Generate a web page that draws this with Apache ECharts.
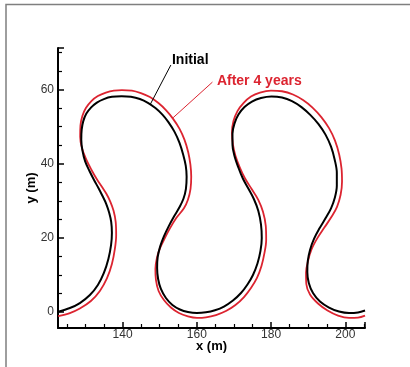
<!DOCTYPE html>
<html>
<head>
<meta charset="utf-8">
<script src="https://cdn.jsdelivr.net/npm/echarts@6/dist/echarts.min.js"></script>
<style>
html, body { margin: 0; padding: 0; background: #fff; }
#chart { width: 410px; height: 367px; }
</style>
</head>
<body>
<div id="chart"></div>
<script>
// channel centerline: [x (m), y (m)]
var initialLine = [
    [122.64, 0.08], [125.80, 1.08], [128.49, 2.43], [131.19, 4.59], [133.34, 7.30],
    [134.96, 10.54], [136.17, 14.32], [136.90, 18.11], [137.12, 21.35], [136.93, 24.32],
    [136.39, 26.76], [135.58, 29.19], [134.56, 31.35], [133.53, 33.38], [132.45, 35.35],
    [131.11, 37.97], [129.92, 40.62], [129.19, 43.51], [128.87, 46.49], [128.98, 49.19],
    [129.41, 51.49], [130.24, 53.51], [131.54, 55.19], [133.07, 56.49], [134.96, 57.43],
    [137.12, 58.03], [139.73, 58.19], [142.24, 58.03], [144.66, 57.43], [146.82, 56.41],
    [148.84, 55.00], [150.73, 53.24], [152.34, 51.22], [153.96, 48.65], [155.31, 45.68],
    [156.33, 42.43], [157.01, 39.46], [157.25, 36.49], [157.06, 33.24], [156.39, 30.54],
    [155.31, 28.24], [153.96, 25.95], [152.48, 23.24], [151.13, 20.41], [150.13, 17.70],
    [149.46, 14.86], [149.30, 11.89], [149.57, 8.92], [150.32, 6.22], [151.67, 3.78],
    [153.42, 1.89], [155.44, 0.68], [157.60, 0.00], [160.03, -0.27], [162.45, -0.08],
    [164.88, 0.49], [167.30, 1.49], [169.73, 3.11], [171.89, 5.14], [173.64, 7.43],
    [175.12, 10.00], [176.33, 13.11], [177.14, 16.49], [177.49, 20.00], [177.28, 23.65],
    [176.55, 27.30], [175.39, 30.41], [173.91, 33.24], [172.43, 35.95], [171.16, 39.05],
    [170.13, 42.16], [169.60, 45.14], [169.60, 48.11], [170.13, 50.81], [171.21, 53.24],
    [172.83, 55.27], [174.85, 56.76], [177.28, 57.70], [180.11, 58.11], [182.94, 57.84],
    [185.63, 56.89], [188.19, 55.27], [190.62, 53.11], [192.78, 50.68], [194.66, 47.84],
    [196.15, 44.59], [197.14, 41.08], [197.71, 37.57], [197.71, 34.05], [197.17, 30.81],
    [196.15, 27.97], [194.66, 25.27], [193.05, 22.57], [191.56, 19.73], [190.49, 16.76],
    [189.89, 13.78], [189.76, 10.81], [190.16, 7.84], [191.29, 5.14], [193.18, 2.84],
    [195.61, 1.22], [198.30, 0.14], [201.00, -0.27], [203.42, -0.11], [205.31, 0.41]
];
var after4Years = [
    [122.64, -1.08], [125.80, -0.27], [128.49, 0.95], [131.46, 2.97], [133.88, 5.68],
    [135.77, 9.05], [137.12, 12.97], [137.92, 17.03], [138.27, 20.81], [138.14, 24.32],
    [137.57, 27.30], [136.71, 29.73], [135.63, 31.89], [134.42, 33.78], [133.07, 35.81],
    [131.59, 38.38], [130.11, 41.35], [129.03, 44.32], [128.57, 47.30], [128.65, 50.27],
    [129.16, 52.84], [130.11, 55.00], [131.59, 56.89], [133.34, 58.24], [135.50, 59.19],
    [137.65, 59.73], [139.81, 59.86], [142.51, 59.73], [144.93, 59.05], [147.36, 57.97],
    [149.65, 56.35], [151.67, 54.46], [153.56, 52.16], [155.31, 49.46], [156.66, 46.49],
    [157.68, 43.11], [158.27, 39.73], [158.49, 36.49], [158.30, 33.24], [157.60, 30.27],
    [156.52, 27.97], [154.50, 25.41], [152.75, 22.57], [151.27, 19.73], [150.00, 17.03],
    [149.19, 14.32], [148.84, 11.62], [148.98, 8.65], [149.70, 5.68], [151.13, 3.24],
    [153.02, 1.22], [155.18, -0.27], [157.60, -1.16], [160.03, -1.57], [162.45, -1.43],
    [165.15, -0.81], [167.84, 0.27], [170.40, 1.89], [172.70, 4.05], [174.58, 6.49],
    [176.20, 9.19], [177.41, 12.43], [178.22, 15.95], [178.68, 19.46], [178.57, 23.24],
    [177.82, 27.03], [176.55, 30.27], [174.72, 33.24], [172.96, 36.08], [171.56, 39.05],
    [170.40, 42.16], [169.73, 45.14], [169.46, 48.38], [169.87, 51.49], [170.94, 54.19],
    [172.56, 56.35], [174.58, 58.11], [177.01, 59.19], [179.97, 59.73], [182.94, 59.54],
    [185.90, 58.65], [188.60, 57.16], [191.16, 55.14], [193.53, 52.57], [195.61, 49.59],
    [197.22, 46.22], [198.36, 42.43], [198.98, 38.65], [199.11, 35.14], [198.73, 31.62],
    [197.76, 28.38], [196.28, 25.68], [194.40, 22.84], [192.51, 20.00], [190.89, 16.89],
    [189.95, 13.78], [189.41, 10.68], [189.49, 7.57], [190.49, 4.73], [192.64, 2.30],
    [195.20, 0.41], [198.03, -0.95], [201.00, -1.57], [203.42, -1.49], [205.31, -0.95]
];

var xRange = [122.6, 205.3];
var yRange = [-4.3, 71.2];

// labels and leader lines, in data units
var labelInitial = { text: 'Initial', at: [153.3, 67.9], from: [153.0, 66.6], to: [147.4, 55.9] };
var labelAfter = { text: 'After 4 years', at: [165.4, 62.3], from: [164.2, 62.0], to: [153.6, 52.4] };

var RED = '#dc2430';
var FONT = 'Liberation Sans, Arial, sans-serif';

var axisCommon = {
    type: 'value',
    splitNumber: 4,
    axisLine: { onZero: false, lineStyle: { color: '#000', width: 2 } },
    axisTick: { inside: true, length: 6, lineStyle: { color: '#000', width: 1.5 } },
    minorTick: { show: true, splitNumber: 4, length: 4, lineStyle: { color: '#000', width: 1.2 } },
    splitLine: { show: false },
    nameLocation: 'middle',
    nameMoveOverlap: false,
    nameTextStyle: { fontFamily: FONT, fontWeight: 'bold', fontSize: 13, color: '#000' }
};

var myChart = echarts.init(document.getElementById('chart'));

var option = {
    animation: false,
    backgroundColor: '#fff',
    grid: { left: 58, top: 48, right: 45, bottom: 39 },
    xAxis: Object.assign({}, axisCommon, {
        min: xRange[0],
        max: xRange[1],
        name: 'x (m)',
        nameGap: 12,
        axisLabel: { showMinLabel: false, showMaxLabel: false, margin: 1,
            fontFamily: FONT, fontSize: 12, color: '#333' }
    }),
    yAxis: Object.assign({}, axisCommon, {
        min: yRange[0],
        max: yRange[1],
        name: 'y (m)',
        nameGap: 20,
        axisLabel: { showMinLabel: false, showMaxLabel: false, margin: 4,
            fontFamily: FONT, fontSize: 12, color: '#333' }
    }),
    series: [
        {
            name: 'After 4 years',
            type: 'line',
            data: after4Years,
            showSymbol: false,
            smooth: 0.35,
            lineStyle: { color: RED, width: 1.8 },
            z: 2
        },
        {
            name: 'Initial',
            type: 'line',
            data: initialLine,
            showSymbol: false,
            smooth: 0.35,
            lineStyle: { color: '#000', width: 2 },
            z: 3
        }
    ]
};

myChart.setOption(option);

function px(p) { return myChart.convertToPixel({ gridIndex: 0 }, p); }

function labelGraphics(lab, color) {
    var a = px(lab.at), f = px(lab.from), t = px(lab.to);
    return [
        { type: 'line', shape: { x1: f[0], y1: f[1], x2: t[0], y2: t[1] },
          style: { stroke: color, lineWidth: 1 }, z: 10 },
        { type: 'text', x: a[0], y: a[1],
          style: { text: lab.text, fill: color, font: 'bold 14px ' + FONT,
                   textAlign: 'left', textVerticalAlign: 'middle' }, z: 10 }
    ];
}

myChart.setOption({
    graphic: [
        { type: 'rect', shape: { x: 6, y: 4.5, width: 420, height: 400 },
          style: { fill: 'none', stroke: '#7f7f7f', lineWidth: 1.5 }, z: 0 }
    ].concat(labelGraphics(labelInitial, '#000'), labelGraphics(labelAfter, RED))
});
</script>
</body>
</html>
